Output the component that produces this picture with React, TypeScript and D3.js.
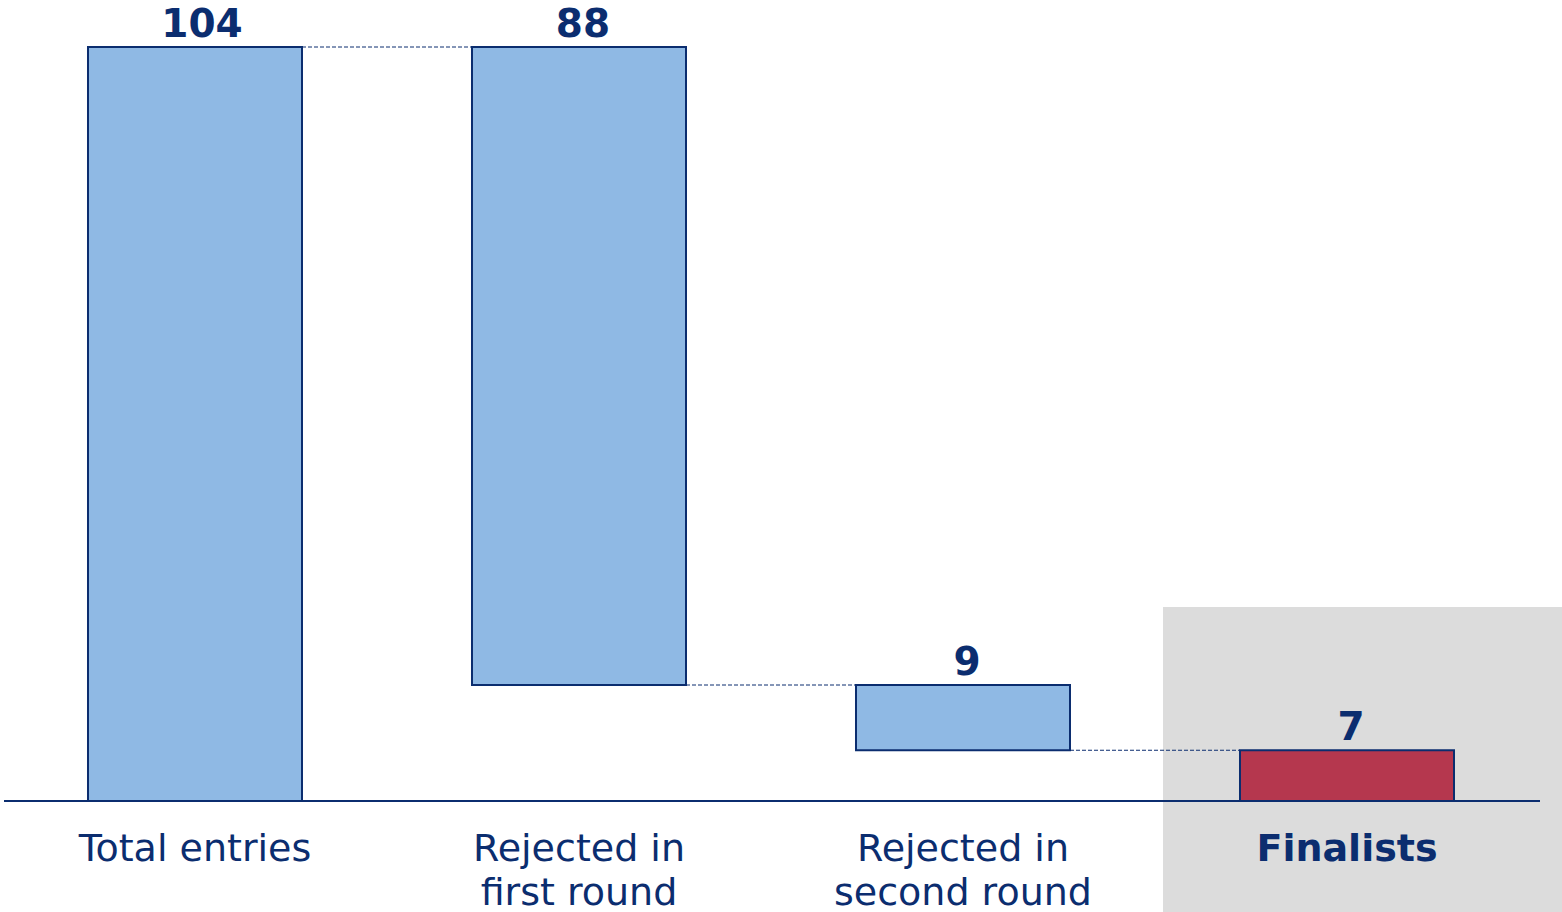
import React from "react";
import * as d3 from "d3";

const categories = ["Total entries", "Rejected in first round", "Rejected in second round", "Finalists"];
const labelLines = [["Total entries"], ["Rejected in", "first round"], ["Rejected in", "second round"], ["Finalists"]];
const values = [104, 88, 9, 7];
// waterfall: bar bottoms
const starts = [0, 16, 7, 0];

const W = 1562, H = 912;
const NAVY = "#0b2d6f";
const BLUE = "#8fb9e4";
const RED = "#b5374e";
const GRAY = "#dcdcdc";

export default function App() {
  const x = d3.scaleBand<string>().domain(categories).range([-27.2, 1569.2]).paddingInner(0.4427).paddingOuter(0.3);
  const y = d3.scaleLinear().domain([0, 104]).range([801, 47]);
  const bw = x.bandwidth();
  const font = "Verdana, 'DejaVu Sans', sans-serif";

  return (
    <svg width={W} height={H} style={{ position: "absolute", left: 0, top: 0 }}>
      <rect x={1163} y={607} width={W - 1163} height={H - 607} fill={GRAY} />
      {categories.map((c, i) => {
        if (i === categories.length - 1) return null;
        const top = starts[i] + values[i];
        const lvl = i === 0 ? top : starts[i];
        const nx = x(categories[i + 1])!;
        return (
          <line key={"c" + i} x1={x(c)! + bw} x2={nx} y1={y(lvl)} y2={y(lvl)}
            stroke={NAVY} strokeWidth={1} strokeDasharray="4,2" />
        );
      })}
      <line x1={4} x2={1540} y1={y(0)} y2={y(0)} stroke={NAVY} strokeWidth={2} />
      {categories.map((c, i) => {
        const y0 = y(starts[i]);
        const y1 = y(starts[i] + values[i]);
        const cx = x(c)! + bw / 2;
        return (
          <g key={c}>
            <rect x={x(c)!} y={y1} width={bw} height={y0 - y1}
              fill={i === 3 ? RED : BLUE} stroke={NAVY} strokeWidth={2} />
            <text x={cx + (i === 0 ? 7 : 4)} y={y1 - 10} textAnchor="middle" fontFamily={font}
              fontWeight="bold" fontSize={39} fill={NAVY}>{values[i]}</text>
            <text x={cx} y={861} textAnchor="middle" fontFamily={font}
              fontSize={38} fontWeight={i === 3 ? "bold" : "normal"} fill={NAVY}>
              {labelLines[i].map((l, j) => (
                <tspan key={j} x={cx} dy={j === 0 ? 0 : 44}>{l}</tspan>
              ))}
            </text>
          </g>
        );
      })}
    </svg>
  );
}
